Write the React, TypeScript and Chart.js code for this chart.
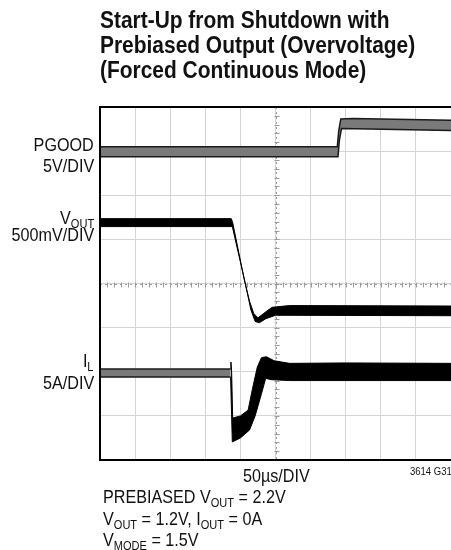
import React, { useEffect, useRef } from "react";
import { Chart, registerables } from "chart.js";

Chart.register(...registerables);

// time axis: µs (50 µs/DIV, 10 DIV); vertical axis: divisions (8 DIV)
const timeTicks = { min: 0, max: 500, step: 50 };
const divTicks = { min: 0, max: 8, step: 1 };

const pgoodUpper: [number, number][] = [[0, 7.1], [338, 7.1], [340, 7.45], [343, 7.73], [360, 7.74], [500, 7.7]];
const pgoodLower: [number, number][] = [[0, 6.87], [339, 6.87], [341, 7.25], [344, 7.51], [500, 7.47]];

const voutUpper: [number, number][] = [[0, 5.47], [187, 5.47], [189, 5.38], [206, 4.05], [213, 3.6], [219, 3.32], [225, 3.22], [233, 3.32], [245, 3.46], [270, 3.5], [500, 3.49]];
const voutLower: [number, number][] = [[0, 5.29], [188.5, 5.29], [207, 4.0], [215, 3.4], [221, 3.14], [227, 3.11], [236, 3.2], [250, 3.28], [500, 3.27]];

const ilBeforeUpper: [number, number][] = [[0, 2.06], [186, 2.06]];
const ilBeforeLower: [number, number][] = [[0, 1.88], [186, 1.88]];
const ilAfterUpper: [number, number][] = [[186, 2.06], [186.5, 2.22], [187.5, 2.0], [189, 0.95], [200, 1.0], [211, 1.13], [217, 1.6], [224, 2.1], [230, 2.32], [237, 2.34], [248, 2.25], [270, 2.19], [350, 2.2], [500, 2.19]];
const ilAfterLower: [number, number][] = [[186, 1.88], [188.5, 0.41], [200, 0.5], [213, 0.68], [221, 1.0], [230, 1.5], [236, 1.85], [244, 1.82], [270, 1.8], [500, 1.8]];

const titleLines = ["Start-Up from Shutdown with", "Prebiased Output (Overvoltage)", "(Forced Continuous Mode)"];

const toPts = (a: [number, number][]) => a.map(([x, y]) => ({ x, y }));

const band = (label: string, up: [number, number][], lo: [number, number][], fillColor: string, edge: string, w: number) => [
  { label: label + " upper", data: toPts(up), borderColor: edge, borderWidth: w, pointRadius: 0, fill: false, tension: 0 },
  { label: label + " lower", data: toPts(lo), borderColor: edge, borderWidth: w, pointRadius: 0, fill: "-1", backgroundColor: fillColor, tension: 0 },
];

const FONT = "'Liberation Sans', Arial, sans-serif";

const scopePlugin = {
  id: "scope",
  beforeDatasetsDraw(chart: any) {
    const { ctx, chartArea: a, scales } = chart;
    const xs = scales.x, ys = scales.y;
    ctx.save();
    ctx.strokeStyle = "#9a9a9a";
    ctx.lineWidth = 1;
    const cx = Math.round(xs.getPixelForValue(250)) + 0.5;
    const cy = Math.round(ys.getPixelForValue(4)) + 0.5;
    ctx.setLineDash([2, 3]);
    ctx.beginPath();
    ctx.moveTo(cx, a.top); ctx.lineTo(cx, a.bottom);
    ctx.moveTo(a.left, cy); ctx.lineTo(a.right, cy);
    ctx.stroke();
    ctx.setLineDash([]);
    ctx.beginPath();
    for (let v = 0; v <= 8.001; v += 0.2) {
      const py = Math.round(ys.getPixelForValue(v)) + 0.5;
      ctx.moveTo(cx - 2, py); ctx.lineTo(cx + 3, py);
    }
    for (let t = 0; t <= 500.001; t += 10) {
      const px = Math.round(xs.getPixelForValue(t)) + 0.5;
      ctx.moveTo(px, cy - 2); ctx.lineTo(px, cy + 3);
    }
    ctx.stroke();
    ctx.restore();
  },
  afterDatasetsDraw(chart: any) {
    const { ctx, chartArea: a } = chart;
    ctx.save();
    ctx.strokeStyle = "#000";
    ctx.lineWidth = 2;
    ctx.strokeRect(a.left, a.top, a.right - a.left + 4, a.bottom - a.top);
    ctx.restore();
  },
};

function T({ left, right, base, size, bold, sx = 0.85, children }: any) {
  const style: any = {
    position: "absolute",
    top: base - 0.8465 * size,
    fontSize: size,
    lineHeight: size + "px",
    fontFamily: FONT,
    fontWeight: bold ? 700 : 400,
    whiteSpace: "nowrap",
    color: "#111",
    transform: `scaleX(${sx})`,
  };
  if (right !== undefined) { style.right = 451 - right; style.textAlign = "right"; style.transformOrigin = "right center"; }
  else { style.left = left; style.transformOrigin = "left center"; }
  return <div style={style}>{children}</div>;
}

const Sub = ({ children }: any) => (
  <span style={{ fontSize: 13, position: "relative", top: 4 }}>{children}</span>
);

export default function App() {
  const ref = useRef<HTMLCanvasElement>(null);
  useEffect(() => {
    const chart = new Chart(ref.current!, {
      type: "line",
      data: {
        datasets: [
          ...band("PGOOD", pgoodUpper, pgoodLower, "#7a7a7a", "#1a1a1a", 1.5),
          ...band("VOUT", voutUpper, voutLower, "#000", "#000", 1),
          ...band("IL before", ilBeforeUpper, ilBeforeLower, "#7a7a7a", "#1a1a1a", 1.5),
          ...band("IL after", ilAfterUpper, ilAfterLower, "#000", "#000", 1),
        ] as any,
      },
      options: {
        animation: false,
        responsive: false,
        layout: { padding: { left: 100, top: 107, right: 0, bottom: 90 } },
        plugins: { legend: { display: false }, tooltip: { enabled: false }, title: { display: false } },
        scales: {
          x: {
            type: "linear", min: timeTicks.min, max: timeTicks.max,
            ticks: { display: false, stepSize: timeTicks.step },
            grid: { color: "#d4d4d4", drawTicks: false, lineWidth: 1 },
            border: { display: false },
          },
          y: {
            type: "linear", min: divTicks.min, max: divTicks.max,
            ticks: { display: false, stepSize: divTicks.step },
            grid: { color: "#d4d4d4", drawTicks: false, lineWidth: 1 },
            border: { display: false },
          },
        },
      },
      plugins: [scopePlugin],
    });
    return () => chart.destroy();
  }, []);

  return (
    <div style={{ position: "absolute", left: 0, top: 0, width: 451, height: 550, overflow: "hidden", background: "#fff" }}>
      <canvas ref={ref} width={451} height={550} style={{ position: "absolute", left: 0, top: 0 }} />
      {titleLines.map((l, i) => (
        <T key={i} left={100} base={28 + i * 25} size={23} bold sx={0.91}>{l}</T>
      ))}
      <T right={94} base={151} size={19}>PGOOD</T>
      <T right={94} base={172} size={19}>5V/DIV</T>
      <T right={94} base={224} size={19}>V<Sub>OUT</Sub></T>
      <T right={94} base={241} size={19}>500mV/DIV</T>
      <T right={94} base={367} size={19}>I<Sub>L</Sub></T>
      <T right={94} base={389} size={19}>5A/DIV</T>
      <T left={243} base={482} size={19}>50µs/DIV</T>
      <T left={410} base={475} size={10} sx={0.95}>3614 G31</T>
      <T left={103} base={503} size={19}>PREBIASED V<Sub>OUT</Sub> = 2.2V</T>
      <T left={103} base={525} size={19}>V<Sub>OUT</Sub> = 1.2V, I<Sub>OUT</Sub> = 0A</T>
      <T left={103} base={546} size={19}>V<Sub>MODE</Sub> = 1.5V</T>
    </div>
  );
}
